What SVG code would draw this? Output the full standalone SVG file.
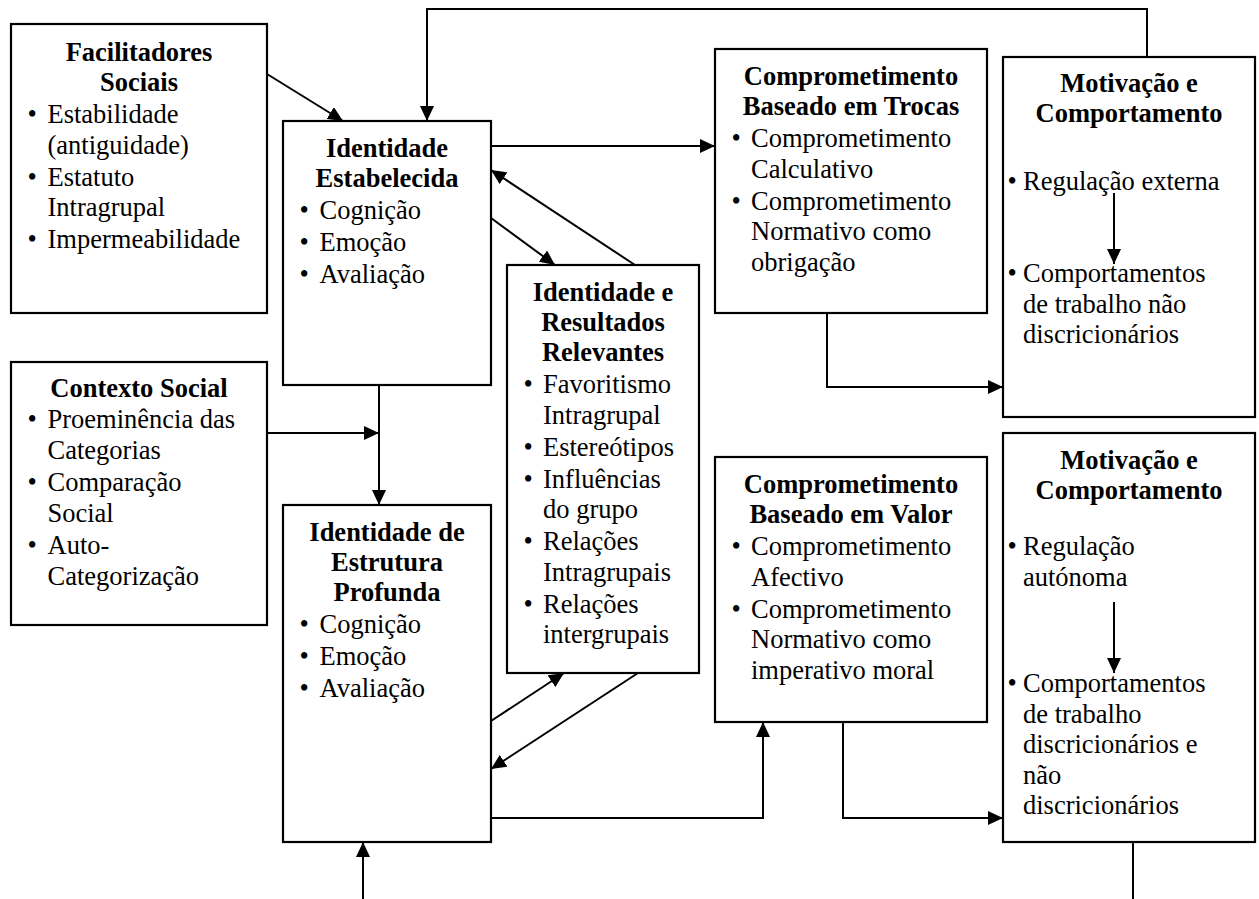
<svg xmlns="http://www.w3.org/2000/svg" width="1259" height="899" viewBox="0 0 1259 899">
<style>
.box{fill:#fff;stroke:#000;stroke-width:2.2}
text{font-family:"Liberation Serif","Times New Roman",serif;font-size:26.5px;fill:#000}
.t{font-weight:bold;text-anchor:middle}
.c{fill:none;stroke:#000;stroke-width:2}
</style>
<defs>
<marker id="ah" markerUnits="userSpaceOnUse" markerWidth="16" markerHeight="14" refX="15" refY="7" orient="auto">
<path d="M0,0 L15,7 L0,14 z" fill="#000"/>
</marker>
</defs>
<rect width="1259" height="899" fill="#fff"/>

<g id="n-facilitadores">
<rect class="box" x="11" y="24" width="256" height="289"/>
<text class="t" x="139" y="61">Facilitadores</text>
<text class="t" x="139" y="91">Sociais</text>
<text x="27.5" y="123">•</text><text x="47.5" y="123">Estabilidade</text>
<text x="47.5" y="153.5">(antiguidade)</text>
<text x="27.5" y="185.5">•</text><text x="47.5" y="185.5">Estatuto</text>
<text x="47.5" y="216">Intragrupal</text>
<text x="27.5" y="248">•</text><text x="47.5" y="248">Impermeabilidade</text>
</g>

<g id="n-contexto">
<rect class="box" x="11" y="362" width="256" height="263"/>
<text class="t" x="139" y="397">Contexto Social</text>
<text x="27.5" y="428">•</text><text x="47.5" y="428">Proeminência das</text>
<text x="47.5" y="458.5">Categorias</text>
<text x="27.5" y="491">•</text><text x="47.5" y="491">Comparação</text>
<text x="47.5" y="521.5">Social</text>
<text x="27.5" y="554">•</text><text x="47.5" y="554">Auto-</text>
<text x="47.5" y="584.5">Categorização</text>
</g>

<g id="n-estabelecida">
<rect class="box" x="283" y="121" width="208" height="264"/>
<text class="t" x="387" y="157">Identidade</text>
<text class="t" x="387" y="187">Estabelecida</text>
<text x="299.5" y="219">•</text><text x="319.5" y="219">Cognição</text>
<text x="299.5" y="251">•</text><text x="319.5" y="251">Emoção</text>
<text x="299.5" y="283">•</text><text x="319.5" y="283">Avaliação</text>
</g>

<g id="n-estrutura">
<rect class="box" x="283" y="505" width="208" height="337"/>
<text class="t" x="387" y="541">Identidade de</text>
<text class="t" x="387" y="571">Estrutura</text>
<text class="t" x="387" y="601">Profunda</text>
<text x="299.5" y="633">•</text><text x="319.5" y="633">Cognição</text>
<text x="299.5" y="665">•</text><text x="319.5" y="665">Emoção</text>
<text x="299.5" y="697">•</text><text x="319.5" y="697">Avaliação</text>
</g>

<g id="n-resultados">
<rect class="box" x="507" y="265" width="192" height="408"/>
<text class="t" x="603" y="301">Identidade e</text>
<text class="t" x="603" y="331">Resultados</text>
<text class="t" x="603" y="361">Relevantes</text>
<text x="523.5" y="393">•</text><text x="543" y="393">Favoritismo</text>
<text x="543" y="423.5">Intragrupal</text>
<text x="523.5" y="455.5">•</text><text x="543" y="455.5">Estereótipos</text>
<text x="523.5" y="487.5">•</text><text x="543" y="487.5">Influências</text>
<text x="543" y="518">do grupo</text>
<text x="523.5" y="550">•</text><text x="543" y="550">Relações</text>
<text x="543" y="580.5">Intragrupais</text>
<text x="523.5" y="612.5">•</text><text x="543" y="612.5">Relações</text>
<text x="543" y="643">intergrupais</text>
</g>

<g id="n-trocas">
<rect class="box" x="715" y="49" width="272" height="264"/>
<text class="t" x="851" y="85">Comprometimento</text>
<text class="t" x="851" y="115">Baseado em Trocas</text>
<text x="731.5" y="147">•</text><text x="751" y="147">Comprometimento</text>
<text x="751" y="177.5">Calculativo</text>
<text x="731.5" y="209.5">•</text><text x="751" y="209.5">Comprometimento</text>
<text x="751" y="240">Normativo como</text>
<text x="751" y="270.5">obrigação</text>
</g>

<g id="n-valor">
<rect class="box" x="715" y="457" width="272" height="265"/>
<text class="t" x="851" y="493">Comprometimento</text>
<text class="t" x="851" y="523">Baseado em Valor</text>
<text x="731.5" y="555">•</text><text x="751" y="555">Comprometimento</text>
<text x="751" y="585.5">Afectivo</text>
<text x="731.5" y="617.5">•</text><text x="751" y="617.5">Comprometimento</text>
<text x="751" y="648">Normativo como</text>
<text x="751" y="678.5">imperativo moral</text>
</g>

<g id="n-motivacao1">
<rect class="box" x="1003" y="57" width="252" height="360"/>
<text class="t" x="1129" y="92">Motivação e</text>
<text class="t" x="1129" y="122">Comportamento</text>
<text x="1007.5" y="190">•</text><text x="1023" y="190">Regulação externa</text>
<text x="1007.5" y="282">•</text><text x="1023" y="282">Comportamentos</text>
<text x="1023" y="312.5">de trabalho não</text>
<text x="1023" y="343">discricionários</text>
</g>

<g id="n-motivacao2">
<rect class="box" x="1003" y="433" width="252" height="409"/>
<text class="t" x="1129" y="469">Motivação e</text>
<text class="t" x="1129" y="499">Comportamento</text>
<text x="1007.5" y="555">•</text><text x="1023" y="555">Regulação</text>
<text x="1023" y="585.5">autónoma</text>
<text x="1007.5" y="692">•</text><text x="1023" y="692">Comportamentos</text>
<text x="1023" y="722.5">de trabalho</text>
<text x="1023" y="753">discricionários e</text>
<text x="1023" y="783.5">não</text>
<text x="1023" y="814">discricionários</text>
</g>

<g id="connectors">
<path class="c" d="M267,74 L343,121" marker-end="url(#ah)"/>
<path class="c" d="M1147,57 V9 H427 V121" marker-end="url(#ah)"/>
<path class="c" d="M491,146 H715" marker-end="url(#ah)"/>
<path class="c" d="M491,218 L555,265" marker-end="url(#ah)"/>
<path class="c" d="M635,265 L491,170" marker-end="url(#ah)"/>
<path class="c" d="M379,385 V505" marker-end="url(#ah)"/>
<path class="c" d="M267,433 H379" marker-end="url(#ah)"/>
<path class="c" d="M827,313 V387 H1003" marker-end="url(#ah)"/>
<path class="c" d="M1114,193 V264" marker-end="url(#ah)"/>
<path class="c" d="M491,721 L564,673" marker-end="url(#ah)"/>
<path class="c" d="M638,673 L491,769" marker-end="url(#ah)"/>
<path class="c" d="M491,818 H763 V722" marker-end="url(#ah)"/>
<path class="c" d="M843,722 V818 H1003" marker-end="url(#ah)"/>
<path class="c" d="M1114,602 V673" marker-end="url(#ah)"/>
<path class="c" d="M363,899 V842" marker-end="url(#ah)"/>
<path class="c" d="M1133,842 V899"/>
</g>
</svg>
